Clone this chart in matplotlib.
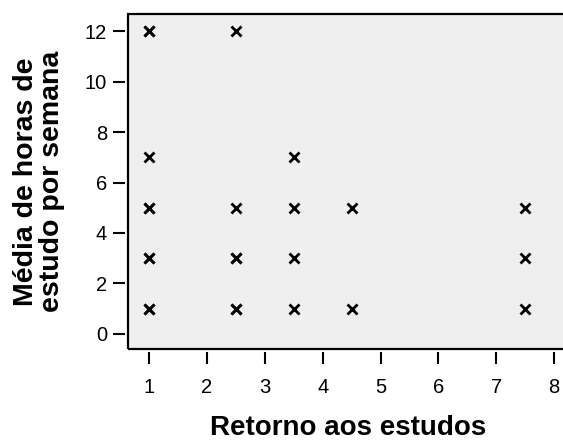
import matplotlib
matplotlib.use("Agg")
import matplotlib.pyplot as plt
from matplotlib.patches import Rectangle

plt.rcParams['font.family'] = ['Liberation Sans', 'DejaVu Sans']

# retorno aos estudos vs horas de estudo (duplicates = overplotted points)
retorno = [1, 1, 2.5, 1, 3.5, 1, 1, 2.5, 3.5, 4.5, 7.5,
           1, 1, 2.5, 2.5, 3.5, 7.5, 1, 1, 2.5, 2.5, 3.5, 4.5, 7.5]
horas = [12, 12, 12, 7, 7, 5, 5, 5, 5, 5, 5,
         3, 3, 3, 3, 3, 3, 1, 1, 1, 1, 1, 1, 1]

xticks = [1, 2, 3, 4, 5, 6, 7, 8]
yticks = [0, 2, 4, 6, 8, 10, 12]

fig = plt.figure(figsize=(5.63, 4.42), dpi=100)
ax = fig.add_axes([128/563, 1 - 349/442, 1 - 128/563 + 0.01, (349 - 13.5)/442])
ax.set_facecolor('#efefef')

ax.plot(retorno, horas, 'x', color='black', markersize=6.5, markeredgewidth=2.0,
        linestyle='none')

ax.set_xlim(0.635, 8.25)
ax.set_ylim(-0.6, 12.7)
ax.set_xticks(xticks)
ax.set_yticks(yticks)

for s in ['top', 'right']:
    ax.spines[s].set_visible(False)
for s in ['left', 'bottom']:
    ax.spines[s].set_position(('outward', 2.5))
    ax.spines[s].set_visible(False)

# frame of the plot area
ax.add_patch(Rectangle((0, 0), 1.2, 1, transform=ax.transAxes, fill=False,
                       edgecolor='black', linewidth=1.6, clip_on=False))

ax.tick_params(axis='both', direction='out', length=8.5, width=1.5,
               labelsize=14.5, color='black')
ax.tick_params(axis='y', pad=4)
ax.tick_params(axis='x', pad=10)

ax.set_xlabel('Retorno aos estudos', fontsize=20, fontweight='bold', labelpad=13)
ax.set_ylabel('Média de horas de\nestudo por semana', fontsize=20.5,
              fontweight='bold', labelpad=14, linespacing=1.0)

fig.savefig('out.png', dpi=100)
